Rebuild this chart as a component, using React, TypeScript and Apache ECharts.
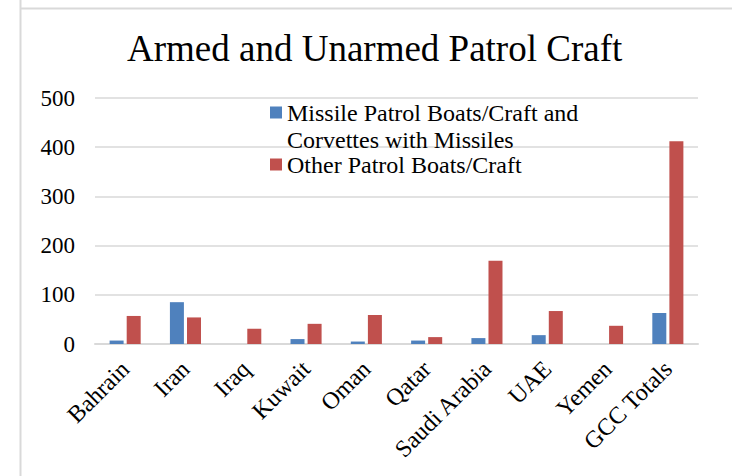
import React, { useEffect, useRef } from "react";
import * as echarts from "echarts";

const categories = ["Bahrain", "Iran", "Iraq", "Kuwait", "Oman", "Qatar", "Saudi Arabia", "UAE", "Yemen", "GCC Totals"];
const missileSeriesName = "Missile Patrol Boats/Craft and Corvettes with Missiles";
const otherSeriesName = "Other Patrol Boats/Craft";
const missileValues = [7, 85, 0, 10, 5, 7, 12, 18, 0, 63];
const otherValues = [57, 54, 31, 41, 59, 14, 169, 67, 37, 412];
const yTicks = [0, 100, 200, 300, 400, 500];

const FONT = "'Liberation Serif', 'Times New Roman', serif";

export default function App() {
  const ref = useRef<HTMLDivElement>(null);
  useEffect(() => {
    if (!ref.current) return;
    const chart = echarts.init(ref.current, undefined, { renderer: "svg" });
    chart.setOption({
      animation: false,
      backgroundColor: "#ffffff",
      title: {
        text: "Armed and Unarmed Patrol Craft",
        left: 127,
        top: 30,
        padding: 0,
        textStyle: { fontFamily: FONT, fontSize: 37, fontWeight: "normal", color: "#000" },
      },
      graphic: [
        { type: "line", shape: { x1: 20.5, y1: 0, x2: 20.5, y2: 476 }, style: { stroke: "#D9D9D9", lineWidth: 2 } },
        { type: "line", shape: { x1: 21, y1: 8.5, x2: 732, y2: 8.5 }, style: { stroke: "#D9D9D9", lineWidth: 2 } },
      ],
      legend: [
        {
          data: [missileSeriesName],
          left: 270,
          top: 72,
          padding: 0,
          itemWidth: 12,
          itemHeight: 12,
          icon: "rect",
          formatter: () => "\nMissile Patrol Boats/Craft and\nCorvettes with Missiles",
          textStyle: { fontFamily: FONT, fontSize: 24, color: "#000", lineHeight: 27 },
        },
        {
          data: [otherSeriesName],
          left: 270,
          top: 151,
          padding: 0,
          itemWidth: 12,
          itemHeight: 12,
          icon: "rect",
          textStyle: { fontFamily: FONT, fontSize: 24, color: "#000", lineHeight: 27 },
        },
      ],
      grid: { left: 95, right: 34, top: 98, bottom: 132, containLabel: false },
      xAxis: {
        type: "category",
        data: categories,
        axisLine: { show: true, lineStyle: { color: "#D9D9D9", width: 2 } },
        axisTick: { show: false },
        axisLabel: {
          rotate: 45,
          interval: 0,
          margin: 21,
          fontFamily: FONT,
          fontSize: 24,
          color: "#000",
        },
      },
      yAxis: {
        type: "value",
        min: yTicks[0],
        max: yTicks[yTicks.length - 1],
        interval: 100,
        axisLine: { show: false },
        axisTick: { show: false },
        splitLine: { lineStyle: { color: "#D9D9D9", width: 1.5 } },
        axisLabel: { fontFamily: FONT, fontSize: 23, color: "#000", margin: 20 },
      },
      series: [
        {
          name: missileSeriesName,
          type: "bar",
          data: missileValues,
          barWidth: 14,
          barGap: "22%",
          itemStyle: { color: "#4F81BD" },
        },
        {
          name: otherSeriesName,
          type: "bar",
          data: otherValues,
          barWidth: 14,
          barGap: "22%",
          itemStyle: { color: "#C0504D" },
        },
      ],
    });
    return () => chart.dispose();
  }, []);
  return <div ref={ref} style={{ position: "absolute", left: 0, top: 0, width: 732, height: 476 }} />;
}
